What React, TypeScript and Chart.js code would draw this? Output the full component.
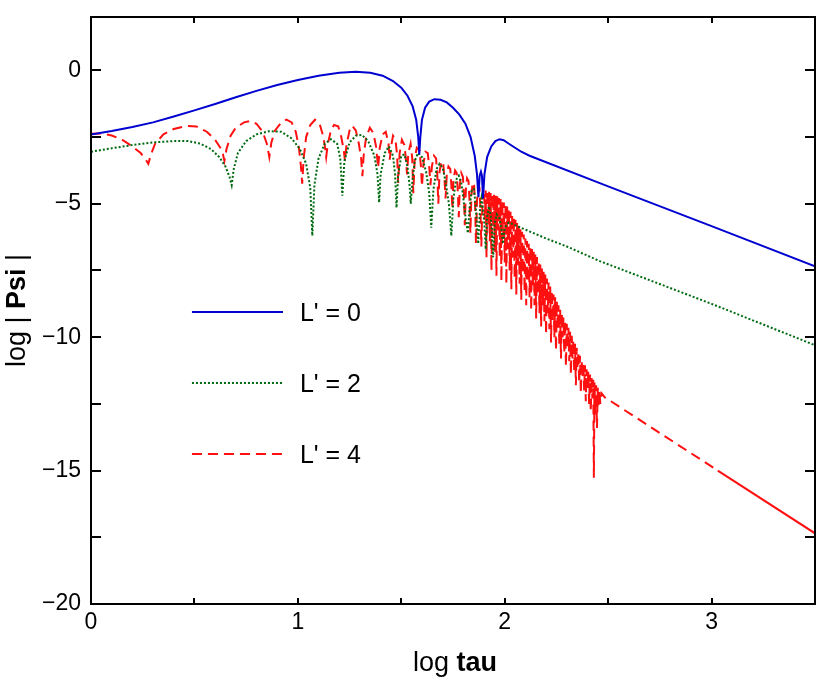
import React, { useEffect, useRef } from "react";
import { Chart, registerables } from "chart.js";

Chart.register(...registerables);

// Series names shown in the in-plot key
const seriesLabels = ["L' = 0", "L' = 2", "L' = 4"];

// log|Psi| against log tau, one list of [logTau, logPsi] pairs per L'
const psiL0: [number, number][] = [
  [0.0, -2.4], [0.1, -2.27], [0.2, -2.12], [0.3, -1.95], [0.4, -1.73], [0.5, -1.5],
  [0.6, -1.26], [0.7, -1.01], [0.8, -0.77], [0.9, -0.55], [1.0, -0.36], [1.1, -0.2],
  [1.2, -0.09], [1.28, -0.05], [1.35, -0.09], [1.41, -0.2], [1.46, -0.4], [1.5, -0.65],
  [1.53, -0.95], [1.555, -1.35], [1.572, -1.85], [1.582, -2.5], [1.587, -3.15],
  [1.592, -2.5], [1.6, -1.85], [1.615, -1.4], [1.635, -1.17], [1.66, -1.08],
  [1.69, -1.1], [1.72, -1.2], [1.75, -1.4], [1.78, -1.65], [1.81, -2.0], [1.835, -2.5],
  [1.855, -3.2], [1.866, -3.9], [1.873, -4.75], [1.879, -3.95], [1.885, -3.8],
  [1.89, -3.95], [1.895, -4.8], [1.902, -3.9], [1.915, -3.25], [1.935, -2.85],
  [1.955, -2.65], [1.975, -2.58], [1.995, -2.62], [2.02, -2.75], [2.05, -2.9],
  [2.08, -3.05], [2.12, -3.2], [2.5, -4.35], [3.0, -5.84], [3.5, -7.34],
];

const psiL2: [number, number][] = [
  [0.0, -3.05], [0.1, -2.92], [0.2, -2.8], [0.3, -2.7], [0.4, -2.65], [0.47, -2.65],
  [0.53, -2.75], [0.58, -2.95], [0.62, -3.25], [0.65, -3.6], [0.67, -4.0], [0.68, -4.3],
  [0.69, -3.7], [0.71, -3.1], [0.75, -2.65], [0.8, -2.4], [0.86, -2.28], [0.92, -2.3],
  [0.97, -2.55], [1.01, -2.95], [1.04, -3.5], [1.06, -4.4], [1.07, -6.2], [1.08, -4.3],
  [1.1, -3.3], [1.13, -2.75], [1.16, -2.58], [1.19, -2.75], [1.205, -3.3], [1.215, -4.7],
  [1.225, -3.4], [1.25, -2.7], [1.28, -2.45], [1.31, -2.42], [1.34, -2.65], [1.37, -3.2],
  [1.385, -3.9], [1.393, -4.95], [1.4, -3.9], [1.42, -3.1], [1.44, -2.85], [1.46, -3.2],
  [1.47, -3.9], [1.477, -5.15], [1.485, -3.9], [1.5, -3.2], [1.515, -3.15], [1.53, -3.6],
  [1.54, -4.3], [1.546, -5.0], [1.553, -4.2], [1.565, -3.4], [1.58, -3.1], [1.6, -3.25],
  [1.62, -3.8], [1.635, -4.6], [1.645, -5.9], [1.655, -4.5], [1.67, -3.7], [1.685, -3.5],
  [1.7, -3.65], [1.715, -4.2], [1.73, -5.0], [1.742, -6.2], [1.752, -4.8], [1.765, -4.1],
  [1.778, -3.95], [1.79, -4.2], [1.8, -4.8], [1.812, -5.6], [1.822, -6.1], [1.83, -5.2],
  [1.84, -4.5], [1.85, -4.45], [1.858, -4.9], [1.866, -5.8], [1.872, -6.5], [1.88, -5.3],
  [1.888, -4.8], [1.895, -5.2], [1.902, -5.8], [1.908, -6.7], [1.915, -5.5], [1.924, -5.1],
  [1.932, -5.4], [1.938, -6.0], [1.944, -7.0], [1.952, -5.7], [1.962, -5.4], [1.975, -5.55],
  [1.985, -6.0], [1.992, -6.5], [2.0, -5.9], [2.02, -5.7], [2.05, -5.8], [2.1, -5.97],
  [2.2, -6.3], [2.3, -6.6], [2.46, -7.15], [3.0, -8.75], [3.5, -10.3],
];

const psiL4: [number, number][] = [
  [0.0, -2.38], [0.05, -2.37], [0.1, -2.44], [0.15, -2.6], [0.2, -2.85], [0.24, -3.1],
  [0.265, -3.35], [0.277, -3.5], [0.29, -3.15], [0.31, -2.75], [0.35, -2.4], [0.4, -2.2],
  [0.46, -2.08], [0.51, -2.1], [0.56, -2.3], [0.6, -2.6], [0.625, -2.9], [0.638, -3.15],
  [0.645, -3.4], [0.655, -2.95], [0.675, -2.45], [0.7, -2.15], [0.74, -1.95], [0.77, -1.9],
  [0.8, -2.0], [0.83, -2.3], [0.85, -2.75], [0.862, -3.25], [0.872, -2.7], [0.89, -2.25],
  [0.92, -1.95], [0.945, -1.85], [0.97, -1.95], [0.99, -2.3], [1.005, -2.9], [1.015, -3.6],
  [1.021, -4.25], [1.028, -3.3], [1.04, -2.5], [1.06, -2.05], [1.083, -1.85], [1.105, -2.0],
  [1.12, -2.4], [1.13, -2.8], [1.137, -3.25], [1.145, -2.75], [1.16, -2.25], [1.175, -2.05],
  [1.195, -2.1], [1.21, -2.5], [1.222, -3.0], [1.228, -3.4], [1.235, -2.8], [1.25, -2.25],
  [1.262, -2.07], [1.28, -2.25], [1.295, -2.75], [1.306, -3.3], [1.312, -3.97], [1.318, -3.2],
  [1.33, -2.5], [1.348, -2.15], [1.365, -2.35], [1.378, -2.85], [1.388, -3.65], [1.396, -2.9],
  [1.41, -2.4], [1.425, -2.3], [1.438, -2.75], [1.444, -3.35], [1.452, -2.8], [1.46, -2.45],
  [1.472, -2.6], [1.48, -3.2], [1.485, -4.22], [1.492, -3.1], [1.503, -2.6], [1.515, -2.8],
  [1.522, -3.3], [1.528, -3.9], [1.534, -3.1], [1.545, -2.75], [1.553, -3.3], [1.558, -4.6],
  [1.565, -3.3], [1.575, -2.9], [1.588, -3.0], [1.595, -3.6], [1.6, -4.35], [1.607, -3.5],
  [1.617, -3.05], [1.628, -3.1], [1.636, -3.7], [1.641, -4.3], [1.648, -3.6], [1.658, -3.2],
  [1.668, -3.3], [1.674, -3.9], [1.679, -5.0], [1.685, -3.8], [1.694, -3.4], [1.703, -3.5],
  [1.709, -4.1], [1.714, -4.8], [1.72, -3.9], [1.728, -3.6], [1.737, -3.7], [1.742, -4.3],
  [1.747, -5.2], [1.752, -4.1], [1.76, -3.75], [1.768, -3.85], [1.773, -4.5], [1.778, -5.5],
  [1.783, -4.3], [1.79, -3.85], [1.798, -4.0], [1.803, -4.7], [1.807, -5.8], [1.812, -4.5],
  [1.818, -4.05], [1.825, -4.15], [1.83, -4.9], [1.834, -6.1], [1.839, -4.7], [1.845, -4.2],
  [1.852, -4.3], [1.857, -5.1], [1.861, -6.5], [1.866, -4.9], [1.872, -4.35], [1.878, -4.4],
  [1.883, -5.3], [1.887, -6.6], [1.892, -5.0], [1.896, -4.45],
  [1.9, -4.45], [1.904, -5.6], [1.908, -4.5], [1.912, -7.0], [1.916, -4.5], [1.92, -5.8],
  [1.924, -4.55], [1.928, -6.4], [1.932, -4.6], [1.936, -7.5], [1.94, -4.62], [1.944, -5.9],
  [1.948, -4.65], [1.952, -6.8], [1.956, -4.7], [1.96, -7.7], [1.964, -4.72], [1.968, -6.0],
  [1.972, -4.78], [1.976, -7.0], [1.98, -4.82], [1.984, -7.9], [1.988, -4.88], [1.992, -6.3],
  [1.996, -4.95], [2.0, -7.2], [2.004, -5.02], [2.008, -8.0], [2.012, -5.1], [2.016, -6.7],
  [2.02, -5.2], [2.024, -7.5], [2.028, -5.3], [2.032, -8.2], [2.036, -5.4], [2.04, -7.0],
  [2.044, -5.5], [2.048, -7.8], [2.052, -5.6], [2.056, -8.4], [2.06, -5.72], [2.064, -7.3],
  [2.068, -5.84], [2.072, -8.0], [2.076, -5.95], [2.08, -8.6], [2.084, -6.05], [2.088, -7.6],
  [2.092, -6.15], [2.096, -8.3], [2.1, -6.3], [2.104, -8.8], [2.108, -6.4], [2.112, -7.9],
  [2.116, -6.5], [2.12, -8.5], [2.124, -6.6], [2.128, -9.0], [2.132, -6.7], [2.136, -8.1],
  [2.14, -6.8], [2.144, -8.8], [2.148, -6.9], [2.152, -9.3], [2.156, -7.0], [2.16, -8.4],
  [2.164, -7.15], [2.168, -9.1], [2.172, -7.28], [2.176, -9.6], [2.18, -7.4], [2.184, -8.8],
  [2.188, -7.55], [2.192, -9.4], [2.196, -7.65], [2.2, -9.9], [2.204, -7.8], [2.208, -9.1],
  [2.212, -7.95], [2.216, -9.7], [2.22, -8.1], [2.224, -10.2], [2.228, -8.25], [2.232, -9.4],
  [2.236, -8.4], [2.24, -10.0], [2.244, -8.5], [2.248, -10.5], [2.252, -8.65], [2.256, -9.7],
  [2.26, -8.8], [2.264, -10.3], [2.268, -8.95], [2.272, -10.8], [2.276, -9.1], [2.28, -10.0],
  [2.284, -9.25], [2.288, -10.6], [2.292, -9.4], [2.296, -11.1], [2.3, -9.5], [2.304, -10.4],
  [2.308, -9.65], [2.312, -10.9], [2.316, -9.8], [2.32, -11.4], [2.324, -9.95], [2.328, -10.8],
  [2.332, -10.1], [2.336, -11.3], [2.34, -10.25], [2.344, -11.8], [2.348, -10.4], [2.352, -11.2],
  [2.356, -10.55], [2.36, -11.7], [2.364, -10.7], [2.368, -12.1], [2.372, -10.85], [2.376, -11.5],
  [2.38, -10.95], [2.384, -12.0], [2.388, -11.05], [2.392, -12.4], [2.396, -11.2], [2.4, -11.9],
  [2.404, -11.3], [2.408, -12.5], [2.412, -11.4], [2.416, -12.8], [2.42, -11.5], [2.424, -12.3],
  [2.428, -11.6], [2.431, -15.27], [2.434, -11.7], [2.438, -12.9], [2.442, -11.8], [2.446, -13.4],
  [2.45, -11.9], [2.454, -12.6], [2.458, -12.0], [2.462, -12.5], [2.468, -12.1], [2.483, -12.25],
  [3.03, -15.0], [3.5, -17.35],
];

const FONT = '"Liberation Sans", Arial, Helvetica, sans-serif';
const BLUE = "#0000d0";
const GREEN = "#006a10";
const RED = "#ff1010";

const toPoints = (pairs: [number, number][]) => pairs.map(([x, y]) => ({ x, y }));

const minus = (v: number) => (v < 0 ? "\u2212" + Math.abs(v) : String(v));

type Part = [string, boolean];

function drawRun(ctx: CanvasRenderingContext2D, parts: Part[], cx: number, cy: number, size: number) {
  const fontOf = (bold: boolean) => `${bold ? "bold " : ""}${size}px ${FONT}`;
  let total = 0;
  for (const [t, b] of parts) {
    ctx.font = fontOf(b);
    total += ctx.measureText(t).width;
  }
  let x = cx - total / 2;
  ctx.textAlign = "left";
  ctx.textBaseline = "middle";
  for (const [t, b] of parts) {
    ctx.font = fontOf(b);
    ctx.fillText(t, x, cy);
    x += ctx.measureText(t).width;
  }
}

// Boxed frame with inward ticks, axis titles and the in-plot key
const decorPlugin = {
  id: "decor",
  afterDatasetsDraw(chart: any) {
    const { ctx, chartArea: a, scales } = chart;
    const xs = scales.x;
    const ys = scales.y;
    ctx.save();
    ctx.strokeStyle = "#000";
    ctx.lineWidth = 2;
    ctx.setLineDash([]);
    ctx.strokeRect(a.left, a.top, a.right - a.left, a.bottom - a.top);
    ctx.beginPath();
    xs.ticks.forEach((t: any) => {
      const px = Math.round(xs.getPixelForValue(t.value));
      ctx.moveTo(px, a.bottom);
      ctx.lineTo(px, a.bottom - 6);
      ctx.moveTo(px, a.top);
      ctx.lineTo(px, a.top + 6);
    });
    ys.ticks.forEach((t: any) => {
      const py = Math.round(ys.getPixelForValue(t.value));
      ctx.moveTo(a.left, py);
      ctx.lineTo(a.left + 10, py);
      ctx.moveTo(a.right, py);
      ctx.lineTo(a.right - 10, py);
    });
    ctx.stroke();

    // key
    const styles = [
      { color: BLUE, dash: [] as number[] },
      { color: GREEN, dash: [2, 2] },
      { color: RED, dash: [10, 6] },
    ];
    const keyRows = [-9.07, -11.72, -14.37];
    const x0 = xs.getPixelForValue(0.488);
    const x1 = xs.getPixelForValue(0.928);
    const xt = xs.getPixelForValue(1.01);
    keyRows.forEach((v, i) => {
      const py = Math.round(ys.getPixelForValue(v));
      ctx.beginPath();
      ctx.strokeStyle = styles[i].color;
      ctx.lineWidth = 2;
      ctx.setLineDash(styles[i].dash);
      ctx.moveTo(x0, py);
      ctx.lineTo(x1, py);
      ctx.stroke();
      ctx.setLineDash([]);
      ctx.fillStyle = "#000";
      ctx.font = `25px ${FONT}`;
      ctx.textAlign = "left";
      ctx.textBaseline = "alphabetic";
      ctx.fillText(seriesLabels[i], xt, py + 9);
    });

    // axis titles
    ctx.fillStyle = "#000";
    drawRun(ctx, [["log ", false], ["tau", true]], (a.left + a.right) / 2 + 2, 664, 27);
    ctx.save();
    ctx.translate(18, (a.top + a.bottom) / 2);
    ctx.rotate(-Math.PI / 2);
    drawRun(ctx, [["log | ", false], ["Psi", true], [" |", false]], 0, 0, 27);
    ctx.restore();
    ctx.restore();
  },
};

export default function App() {
  const ref = useRef<HTMLCanvasElement>(null);

  useEffect(() => {
    const canvas = ref.current;
    if (!canvas) return;
    const chart = new Chart(canvas, {
      type: "scatter",
      data: {
        datasets: [
          {
            label: seriesLabels[0],
            data: toPoints(psiL0),
            showLine: true,
            borderColor: BLUE,
            borderWidth: 2,
            pointRadius: 0,
            tension: 0,
          },
          {
            label: seriesLabels[1],
            data: toPoints(psiL2),
            showLine: true,
            borderColor: GREEN,
            borderWidth: 2,
            borderDash: [2, 2],
            pointRadius: 0,
            tension: 0,
          },
          {
            label: seriesLabels[2],
            data: toPoints(psiL4),
            showLine: true,
            borderColor: RED,
            borderWidth: 2,
            borderDash: [10, 6],
            pointRadius: 0,
            tension: 0,
            segment: {
              borderDash: (c: any) => (c.p0.parsed.x >= 3.0 ? [] : undefined),
            },
          },
        ],
      },
      options: {
        animation: false,
        responsive: false,
        devicePixelRatio: 1,
        layout: { padding: { top: 17, right: 16, left: 0, bottom: 0 } },
        plugins: {
          legend: { display: false },
          tooltip: { enabled: false },
        },
        scales: {
          x: {
            type: "linear",
            min: 0,
            max: 3.5,
            grid: { display: false, drawTicks: false },
            border: { display: false },
            ticks: {
              stepSize: 0.5,
              autoSkip: false,
              maxRotation: 0,
              padding: 5,
              color: "#000",
              font: { family: FONT, size: 23 },
              callback: (v: any) => (Number.isInteger(v) ? minus(v) : ""),
            },
            afterFit: (s: any) => {
              s.height = 82;
              s.paddingLeft = 0;
              s.paddingRight = 0;
            },
          },
          y: {
            type: "linear",
            min: -20,
            max: 2,
            grid: { display: false, drawTicks: false },
            border: { display: false },
            ticks: {
              stepSize: 2.5,
              autoSkip: false,
              padding: 10,
              color: "#000",
              font: { family: FONT, size: 23 },
              callback: (v: any) => (v % 5 === 0 ? minus(v) : ""),
            },
            afterFit: (s: any) => {
              s.width = 91;
              s.paddingTop = 0;
              s.paddingBottom = 0;
            },
          },
        },
      },
      plugins: [decorPlugin],
    });
    return () => chart.destroy();
  }, []);

  return (
    <div style={{ position: "absolute", left: 0, top: 0, width: 831, height: 686, background: "#fff" }}>
      <canvas ref={ref} width={831} height={686} style={{ display: "block" }} />
    </div>
  );
}
